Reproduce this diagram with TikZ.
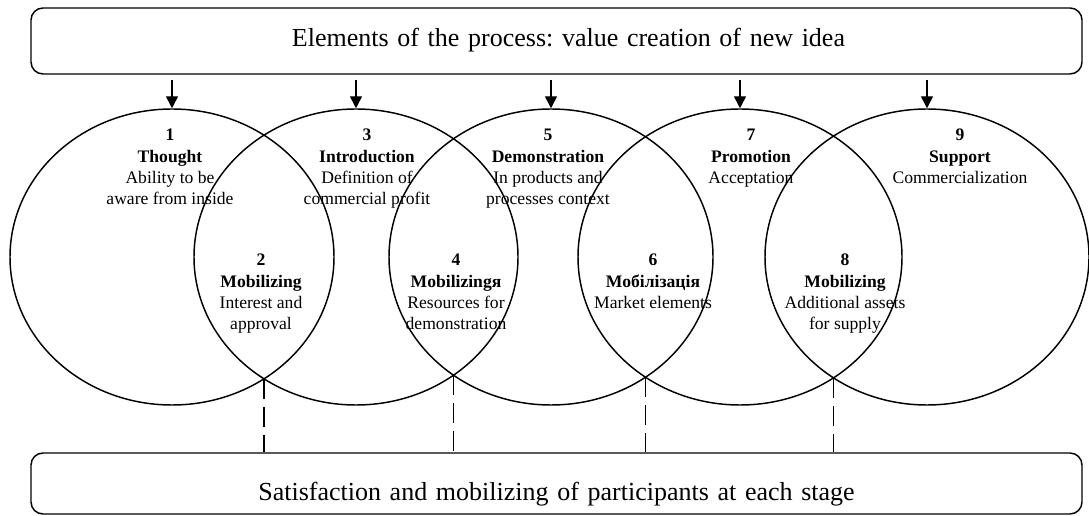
\documentclass[tikz,border=0pt]{standalone}
\usepackage{fontspec}
\setmainfont{Liberation Serif}
\frenchspacing
\usetikzlibrary{shapes.geometric,arrows.meta}
\begin{document}
\begin{tikzpicture}[x=0.75pt,y=-0.75pt,
  box/.style={draw, rounded corners=9pt, line width=1.1pt, inner sep=0pt,
    text width=788.25pt, align=center, font=\fontsize{19.5pt}{24pt}\selectfont},
  ell/.style={draw, ellipse, line width=1.1pt, inner sep=0pt,
    minimum width=243pt, minimum height=222pt},
  lbl/.style={align=center, inner sep=0pt, anchor=north,
    font=\fontsize{13.2pt}{16pt}\selectfont},
  arr/.style={-{Triangle[length=9pt,width=9pt]}, line width=1.1pt, shorten <=4pt},
  dsh/.style={dash pattern=on 15pt off 6pt, line width=1.1pt}]
\useasboundingbox (0,0) rectangle (1089,516);

\node[box, text height=29.25pt, text depth=20.25pt] (top) at (556.5,41)
  {\hspace*{18pt}Elements of the process: value creation of new idea};
\node[box, text height=35.25pt, text depth=10.5pt] (bot) at (556.5,483.5)
  {Satisfaction and mobilizing of participants at each stage};

\node[ell] (c1) at (172,257) {};
\node[ell] (c2) at (356,257) {};
\node[ell] (c3) at (551,257) {};
\node[ell] (c4) at (740,257) {};
\node[ell] (c5) at (927,257) {};

\foreach \c in {c1,c2,c3,c4,c5}
  \draw[arr] (\c.north |- top.south) -- (\c.north);

\node[lbl] (t1) at (170,129) {\textbf{1}\\\textbf{Thought}\\Ability to be\\aware from inside};
\node[lbl] (t3) at (367,129) {\textbf{3}\\\textbf{Introduction}\\Definition of\\commercial profit};
\node[lbl] (t5) at (548,129) {\textbf{5}\\\textbf{Demonstration}\\In products and\\processes context};
\node[lbl] (t7) at (751,129) {\textbf{7}\\\textbf{Promotion}\\Acceptation};
\node[lbl] (t9) at (960,129) {\textbf{9}\\\textbf{Support}\\Commercialization};

\node[lbl] (t2) at (261,254) {\textbf{2}\\\textbf{Mobilizing}\\Interest and\\approval};
\node[lbl] (t4) at (456,254) {\textbf{4}\\\textbf{Mobilizingя}\\Resources for\\demonstration};
\node[lbl] (t6) at (653,254) {\textbf{6}\\\textbf{Мобілізація}\\Market elements};
\node[lbl] (t8) at (845,254) {\textbf{8}\\\textbf{Mobilizing}\\Additional assets\\for supply};

\coordinate (i1) at (264,378.8);
\coordinate (i2) at (453.5,375.2);
\coordinate (i3) at (645.5,377.2);
\coordinate (i4) at (833.5,377.9);
\foreach \i in {i1,i2,i3,i4}
  \draw[dsh] (\i) -- (\i |- bot.north);
\end{tikzpicture}
\end{document}
